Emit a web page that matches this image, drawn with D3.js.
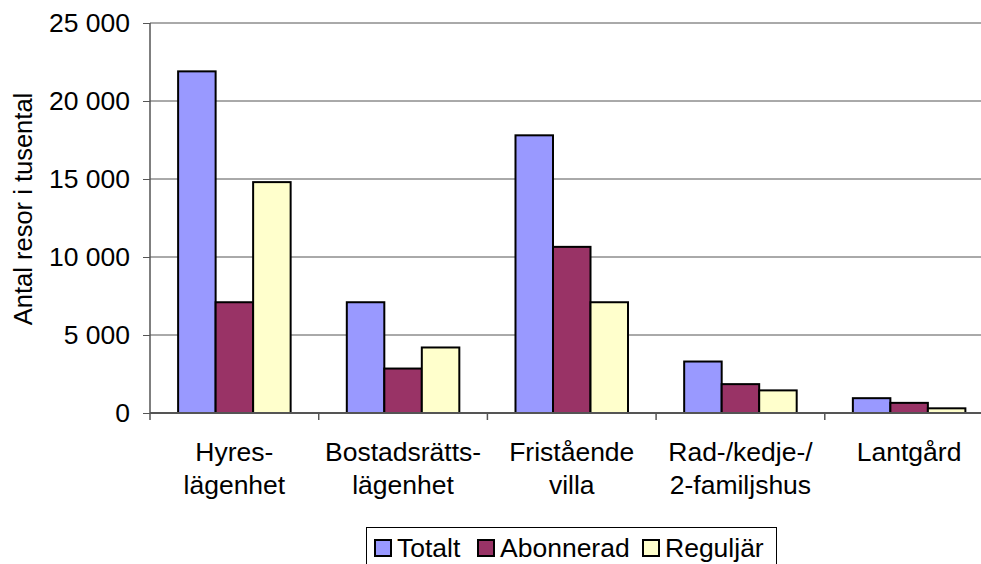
<!DOCTYPE html>
<html>
<head>
<meta charset="utf-8">
<script src="https://cdn.jsdelivr.net/npm/d3@7"></script>
<style>
  html, body { margin: 0; padding: 0; background: #fff; }
  svg { display: block; font-family: "Liberation Sans", Arial, sans-serif; }
</style>
</head>
<body>
<svg id="chart" width="981" height="564"></svg>
<script>
// Chart data
const categories = [
  ['Hyres-', 'lägenhet'],
  ['Bostadsrätts-', 'lägenhet'],
  ['Fristående', 'villa'],
  ['Rad-/kedje-/', '2-familjshus'],
  ['Lantgård']
];
const seriesNames = ['Totalt', 'Abonnerad', 'Reguljär'];
const totalt    = [21900, 7100, 17800, 3300, 950];
const abonnerad = [7100, 2850, 10650, 1850, 650];
const reguljar  = [14800, 4200, 7100, 1450, 300];
const yTicks = [0, 5000, 10000, 15000, 20000, 25000];
const colors = ['#9999FF', '#993366', '#FFFFCC'];

const svg = d3.select('#chart');
const plotLeft = 150, plotRight = 993.5, plotTop = 23, plotBottom = 413;
const fontSize = 26.5;

const catKeys = categories.map(c => c.join(' '));
const x = d3.scaleBand().domain(catKeys).range([plotLeft, plotRight])
  .paddingInner(0.333).paddingOuter(0.1667);
const xs = d3.scaleBand().domain(seriesNames).range([0, x.bandwidth()]);
const y = d3.scaleLinear().domain([0, 25000]).range([plotBottom, plotTop]);

const fmt = v => d3.format(',')(v).replace(/,/g, ' ');

// Gridlines
svg.append('g').selectAll('line')
  .data(yTicks.filter(t => t > 0))
  .enter().append('line')
  .attr('x1', plotLeft).attr('x2', plotRight)
  .attr('y1', d => y(d)).attr('y2', d => y(d))
  .attr('stroke', '#555').attr('stroke-width', 1);

// Bars
const series = [totalt, abonnerad, reguljar];
const groups = svg.append('g').selectAll('g')
  .data(catKeys)
  .enter().append('g')
  .attr('transform', d => `translate(${x(d)},0)`);

groups.selectAll('rect')
  .data((d, i) => seriesNames.map((s, j) => ({ s, v: series[j][i], c: colors[j] })))
  .enter().append('rect')
  .attr('x', d => xs(d.s))
  .attr('width', xs.bandwidth())
  .attr('y', d => y(d.v))
  .attr('height', d => y(0) - y(d.v))
  .attr('fill', d => d.c)
  .attr('stroke', '#000')
  .attr('stroke-width', 2);

// Axes
const yAxis = svg.append('g')
  .attr('transform', `translate(${plotLeft},0)`)
  .call(d3.axisLeft(y).tickValues(yTicks).tickFormat(fmt).tickSize(7).tickPadding(13));
yAxis.select('.domain').attr('stroke', '#555').attr('stroke-width', 1.5)
  .attr('d', `M0,${plotTop}V${plotBottom + 7}`);
yAxis.selectAll('.tick line').attr('stroke', '#555');
yAxis.selectAll('.tick text').attr('font-size', fontSize).attr('fill', '#000')
  .attr('font-family', '"Liberation Sans", Arial, sans-serif');

const gap = x.step() - x.bandwidth();
const tickXs = catKeys.map(k => x(k) - gap / 2);
svg.append('line')
  .attr('x1', plotLeft).attr('x2', plotRight)
  .attr('y1', plotBottom).attr('y2', plotBottom)
  .attr('stroke', '#555').attr('stroke-width', 2);
svg.append('g').selectAll('line')
  .data(tickXs.slice(1))
  .enter().append('line')
  .attr('x1', d => d).attr('x2', d => d)
  .attr('y1', plotBottom).attr('y2', plotBottom + 7)
  .attr('stroke', '#555').attr('stroke-width', 1.5);

// Category labels
const labels = svg.append('g').selectAll('text')
  .data(categories)
  .enter().append('text')
  .attr('x', (d, i) => x(catKeys[i]) + x.bandwidth() / 2)
  .attr('y', 461)
  .attr('text-anchor', 'middle')
  .attr('font-size', fontSize);
labels.selectAll('tspan')
  .data(d => d)
  .enter().append('tspan')
  .attr('x', function () { return d3.select(this.parentNode).attr('x'); })
  .attr('dy', (d, i) => i === 0 ? 0 : 33)
  .text(d => d);

// Y axis title
svg.append('text')
  .attr('transform', 'translate(32,209) rotate(-90)')
  .attr('text-anchor', 'middle')
  .attr('font-size', 25.5)
  .text('Antal resor i tusental');

// Legend
const legend = svg.append('g');
legend.append('rect')
  .attr('x', 366.5).attr('y', 527.5)
  .attr('width', 410).attr('height', 45)
  .attr('fill', '#fff').attr('stroke', '#000').attr('stroke-width', 1);
const legendX = [375, 478, 643];
seriesNames.forEach((name, i) => {
  legend.append('rect')
    .attr('x', legendX[i]).attr('y', 540)
    .attr('width', 16).attr('height', 16)
    .attr('fill', colors[i]).attr('stroke', '#000').attr('stroke-width', 2);
  legend.append('text')
    .attr('x', legendX[i] + 22).attr('y', 557)
    .attr('font-size', fontSize)
    .text(name);
});
</script>
</body>
</html>
